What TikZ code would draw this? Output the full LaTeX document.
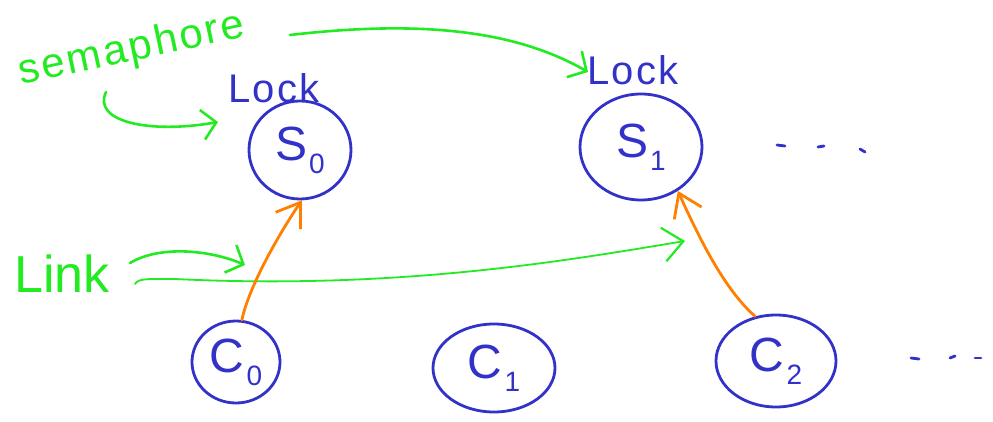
\documentclass[tikz,border=0pt]{standalone}
\usepackage{fontspec}
\setmainfont{Liberation Sans}
\usetikzlibrary{shapes.geometric,arrows.meta}
\definecolor{hgreen}{RGB}{34,235,34}
\definecolor{hblue}{RGB}{50,50,200}
\definecolor{horange}{RGB}{255,128,0}
\newcommand{\fsz}[1]{\fontsize{#1}{#1}\selectfont}
\newcommand{\sub}[1]{\kern2pt\raisebox{-13pt}{\fsz{28}#1}}
\begin{document}
\begin{tikzpicture}[x=1pt,y=-1pt,
 blob/.style={ellipse,draw=hblue,line width=2.8pt,inner sep=0pt,text=hblue,font=\fsz{48}},
 gline/.style={draw=hgreen,line width=2.6pt,line cap=round,line join=round},
 garrow/.style={gline,-{Straight Barb[length=14pt,width=30pt,line width=2.6pt]}},
 oarrow/.style={draw=horange,line width=2.8pt,line cap=round,-{Straight Barb[length=22pt,width=30pt,line width=2.8pt]}},
 gtext/.style={text=hgreen,inner sep=0pt},
 btext/.style={text=hblue,inner sep=0pt},
 bdash/.style={draw=hblue,line width=2.8pt,line cap=round}]
\useasboundingbox (0,0) rectangle (993,422);

% labels
\node[gtext,font={\fsz{42}\addfontfeatures{LetterSpace=6}},rotate=12] (sem) at (132,50) {semaphore};
\node[gtext,font=\fsz{52}] (link) at (62,274) {Link};
\node[btext,font={\fsz{40}\addfontfeatures{LetterSpace=6}}] (lock0) at (274,88) {Lock};
\node[btext,font={\fsz{40}\addfontfeatures{LetterSpace=6}}] (lock1) at (633,70) {Lock};

% blobs
\node[blob,minimum width=102pt,minimum height=98pt] (s0) at (300,150) {S\sub{0}};
\node[blob,minimum width=122pt,minimum height=106pt] (s1) at (641,147) {S\sub{1}};
\node[blob,minimum width=88pt,minimum height=82pt] (c0) at (236,362) {C\sub{0}};
\node[blob,minimum width=122pt,minimum height=88pt] (c1) at (494,368) {C\sub{1}};
\node[blob,minimum width=120pt,minimum height=92pt] (c2) at (776,361) {C\sub{2}};

% ellipsis dashes
\coordinate (d1) at (777,145); \coordinate (d2) at (818,147); \coordinate (d3) at (860,149);
\draw[bdash] (d1) -- ++(8,1);
\draw[bdash] (d2) -- ++(6,-1);
\draw[bdash] (d3) -- ++(5,3);
\coordinate (e1) at (911,358); \coordinate (e2) at (950,358); \coordinate (e3) at (975,358);
\draw[bdash] (e1) -- ++(8,1);
\draw[bdash] (e2) -- ++(5,-2);
\draw[bdash] (e3) -- ++(6,0);

% green arrows
\coordinate (semtail) at (106,92);
\coordinate (semtip) at (218,122);
\draw[garrow] (semtail) .. controls (92,122) and (150,134) .. (semtip);
\coordinate (toptail) at (290,35);
\coordinate (toptip) at (588,72);
\draw[garrow] (toptail) .. controls (420,20) and (515,30) .. (toptip);
\coordinate (lktail) at (130,263);
\coordinate (lktip) at (245,265);
\draw[garrow] (lktail) .. controls (160,245) and (210,250) .. (lktip);
\coordinate (lltail) at (135,284);
\coordinate (lltip) at (685,241);
\draw[gline,line width=1.8pt,-{Straight Barb[length=20pt,width=34pt,line width=2.2pt]}]
  (lltail) .. controls (138,278) and (150,279) .. (175,279)
  .. controls (400,290) and (570,260) .. (lltip);

% orange arrows
\draw[oarrow] (c0.82) .. controls (248,290) and (275,240) .. (s0.-88);
\draw[oarrow] (c2.115) .. controls (725,290) and (700,240) .. (s1.-50);
\end{tikzpicture}
\end{document}
